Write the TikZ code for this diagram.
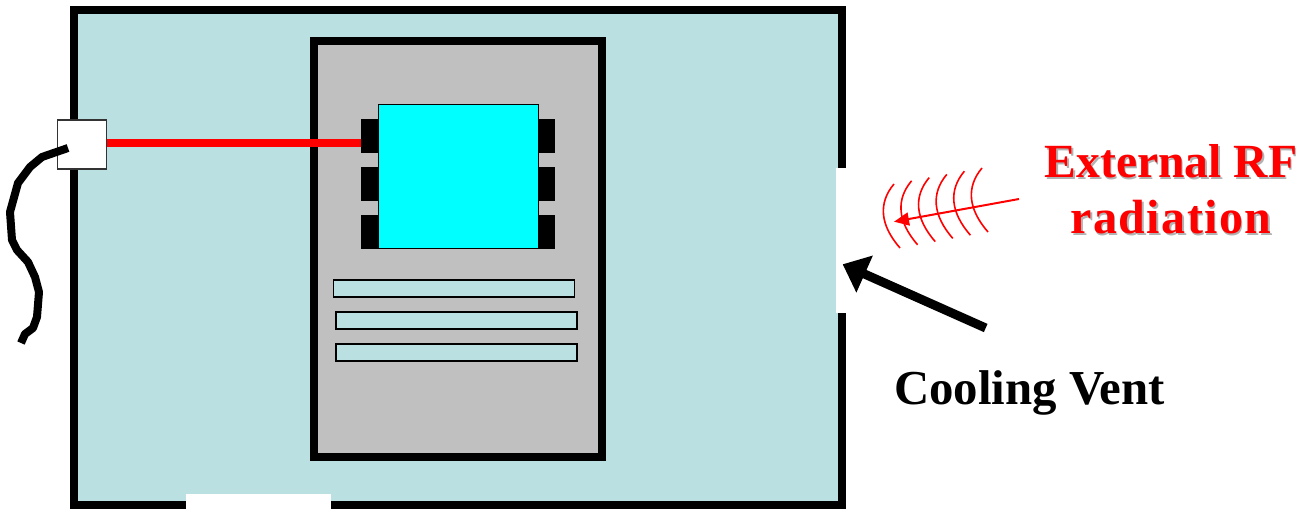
\documentclass[tikz,border=0pt]{standalone}
\usepackage{fontspec}
\setmainfont{Liberation Serif}
\usepackage{xcolor}
\usetikzlibrary{arrows.meta,positioning}
\definecolor{casefill}{HTML}{BAE0E2}
\definecolor{rackfill}{HTML}{C0C0C0}
\definecolor{chipfill}{HTML}{00FFFF}
\newcommand{\rfwords}{{\fontsize{23.8}{28}\selectfont External RF}\\{\addfontfeature{LetterSpace=2.9}radiation}}
\tikzset{
  platebox/.style={draw, inner sep=0pt, outer sep=0pt},
  casebox/.style={platebox, fill=casefill, line width=4pt, minimum width=384pt, minimum height=247.5pt},
  rackbox/.style={platebox, fill=rackfill, line width=4pt, minimum width=144pt, minimum height=208pt},
  chipbox/.style={platebox, fill=chipfill, line width=0.7pt, minimum width=80pt, minimum height=72pt},
  pinbox/.style={fill=black, inner sep=0pt, outer sep=0pt, minimum width=8.5pt, minimum height=17pt},
  slotbox/.style={platebox, fill=casefill, line width=0.65pt, minimum width=120.5pt, minimum height=8.5pt},
  gapbox/.style={fill=white, inner sep=0pt, outer sep=0pt},
  jackbox/.style={platebox, draw=black!80, fill=white, line width=0.6pt, minimum width=24.5pt, minimum height=24.5pt},
  rflabel/.style={align=center, text=red, font=\fontsize{24}{28}\selectfont\bfseries, inner sep=0pt},
  rfshade/.style={rflabel, text=black!30},
  ventlabel/.style={font=\fontsize{24.4}{28}\selectfont\bfseries, inner sep=0pt},
  feedline/.style={red, line width=4pt},
  cableline/.style={line width=4pt, line join=round},
  ventarrw/.style={-{Triangle[length=12pt,width=19.5pt]}, line width=4.5pt},
  rfarrw/.style={-{Triangle[length=7.5pt,width=6.5pt]}, red, line width=1pt},
  wavefront/.style={red, line width=0.8pt},
}
\begin{document}
\begin{tikzpicture}[x=0.5pt, y=-0.5pt]
  \useasboundingbox (0,0) rectangle (1298,509);

  \node[casebox] (case) at (458,257) {};
  \node[gapbox, minimum width=6pt, minimum height=72.5pt] (sidevent) at (842,240.5) {};
  \node[gapbox, minimum width=72.5pt, minimum height=8pt] (lowvent) at (258.5,502) {};

  \node[rackbox] (rack) at (458,249) {};
  \node[chipbox] (chip) at (458.3,176.3) {};

  % pins either side of the chip
  \foreach \n/\y in {1/136, 2/184, 3/232} {
    \node[pinbox] (pinl\n) at (369.7,\y) {};
    \node[pinbox] (pinr\n) at (546.8,\y) {};
  }

  \node[slotbox] (slota) at (454.3,288.5) {};
  \node[slotbox] (slotb) at (456.5,320.5) {};
  \node[slotbox] (slotc) at (456.5,352.5) {};

  \node[jackbox] (jack) at (82.3,144.5) {};
  \coordinate (feed) at (pinl1.west |- 0,143);
  \draw[feedline] (jack.east |- feed) -- (feed);

  \coordinate (plug) at (68,148);
  \draw[cableline] (plug) -- (42,157) -- (30,167) -- (18,183) -- (10,212) -- (12,240)
    -- (17,250) -- (28,262) -- (35,277) -- (39,292) -- (37,317) -- (33,328) -- (25,334) -- (21,343);

  % radiation fronts
  \foreach \n in {0,...,5} {
    \draw[wavefront] ({894+17.6*\n},{184-3.2*\n})
      .. controls ({878+17.6*\n},{203-3.2*\n}) and ({880+17.6*\n},{225-3.2*\n})
      .. ({900+17.6*\n},{248-3.2*\n});
  }

  \node[rfshade] (rfshadow) at (1172.5,191) {\rfwords};
  \node[rflabel] (rftext) at (1171,189.5) {\rfwords};
  \coordinate (rfstart) at (1019,199);
  \coordinate (rfend) at (894,221.7);
  \draw[rfarrw] (rfstart) -- (rfend);

  \node[ventlabel] (venttext) at (1029.5,393) {Cooling Vent};
  \coordinate (ventstart) at (985.7,328);
  \coordinate (ventend) at (842.7,264.3);
  \draw[ventarrw] (ventstart) -- (ventend);
\end{tikzpicture}
\end{document}
